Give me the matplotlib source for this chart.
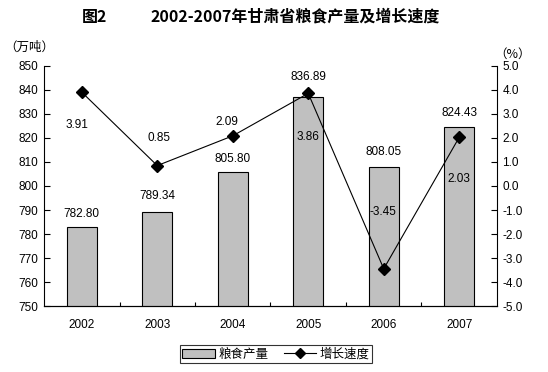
import matplotlib.pyplot as plt
from matplotlib.lines import Line2D
from matplotlib.patches import Patch

plt.rcParams['font.family'] = ['Liberation Sans', 'Noto Sans CJK SC', 'DejaVu Sans']

years = ['2002', '2003', '2004', '2005', '2006', '2007']
output = [782.80, 789.34, 805.80, 836.89, 808.05, 824.43]
growth = [3.91, 0.85, 2.09, 3.86, -3.45, 2.03]
# label offsets in pixels, as placed by hand in the original chart
output_offsets = [13, 15.5, 13, 20, 15, 14]
growth_offsets = [(-4.5, -33), (2, 28), (-6, 14), (0, -44), (-1, 57), (0, -42)]

fig = plt.figure(figsize=(5.48, 3.72), dpi=100)
ax = fig.add_axes([0.0803, 0.1774, 0.8266, 0.6452])
x = range(len(years))

ax.bar(x, output, width=0.4, color='#c0c0c0', edgecolor='black', linewidth=0.8, zorder=2)
ax.set_ylim(750, 850)
ax.set_xlim(-0.5, 5.5)
ax.set_yticks(range(750, 851, 10))
ax.set_xticks(list(x))
ax.set_xticklabels(years)
ax.set_xticks([i + 0.5 for i in range(len(years) - 1)], minor=True)
ax.tick_params(axis='y', direction='in', length=4, labelsize=8.5, pad=4)
ax.tick_params(axis='x', which='major', length=0, labelsize=8.5, pad=9)
ax.tick_params(axis='x', which='minor', direction='in', length=3, width=0.8)
ax.spines['top'].set_visible(False)
ax.spines['right'].set_visible(False)
for v, val, off in zip(x, output, output_offsets):
    ax.annotate(f'{val:.2f}', (v, val), xytext=(0, off), textcoords='offset pixels',
                ha='center', va='center', fontsize=8.5)

ax2 = ax.twinx()
ax2.plot(x, growth, color='black', linewidth=0.8, marker='D', markersize=6, zorder=3)
ax2.set_ylim(-5, 5)
ax2.set_yticks(range(-5, 6))
ax2.set_yticklabels([f'{t:.1f}' for t in range(-5, 6)])
ax2.tick_params(axis='y', direction='in', length=4, labelsize=8.5, pad=4)
ax2.spines['top'].set_visible(False)
ax2.spines['left'].set_visible(False)
for v, val, off in zip(x, growth, growth_offsets):
    ax2.annotate(f'{val:.2f}', (v, val), xytext=off, textcoords='offset pixels',
                 ha='center', va='center', fontsize=8.5)

fig.text(0.15, 0.955, '图2', fontsize=11.5, fontweight='bold', family=['Noto Sans CJK SC'],
         ha='left', va='center')
fig.text(0.274, 0.955, '2002-2007年甘肃省粮食产量及增长速度', fontsize=11.5, fontweight='bold',
         family=['Noto Sans CJK SC'], ha='left', va='center')
fig.text(0.008, 0.874, '（万吨）', fontsize=9, family=['Noto Sans CJK SC'], ha='left', va='center')
fig.text(0.902, 0.855, '（%）', fontsize=9, family=['Noto Sans CJK SC'], ha='left', va='center')

handles = [Patch(facecolor='#c0c0c0', edgecolor='black', linewidth=0.8),
           Line2D([], [], color='black', linewidth=0.8, marker='D', markersize=5)]
leg = fig.legend(handles, ['粮食产量', '增长速度'], loc='center', bbox_to_anchor=(0.504, 0.0475),
                 ncol=2, frameon=True, fancybox=False, edgecolor='black',
                 prop={'family': ['Noto Sans CJK SC'], 'size': 9},
                 handlelength=2.6, handletextpad=0.3, columnspacing=1.2, borderpad=0.2)
leg.get_frame().set_linewidth(0.8)

fig.savefig('out.png', dpi=100)
